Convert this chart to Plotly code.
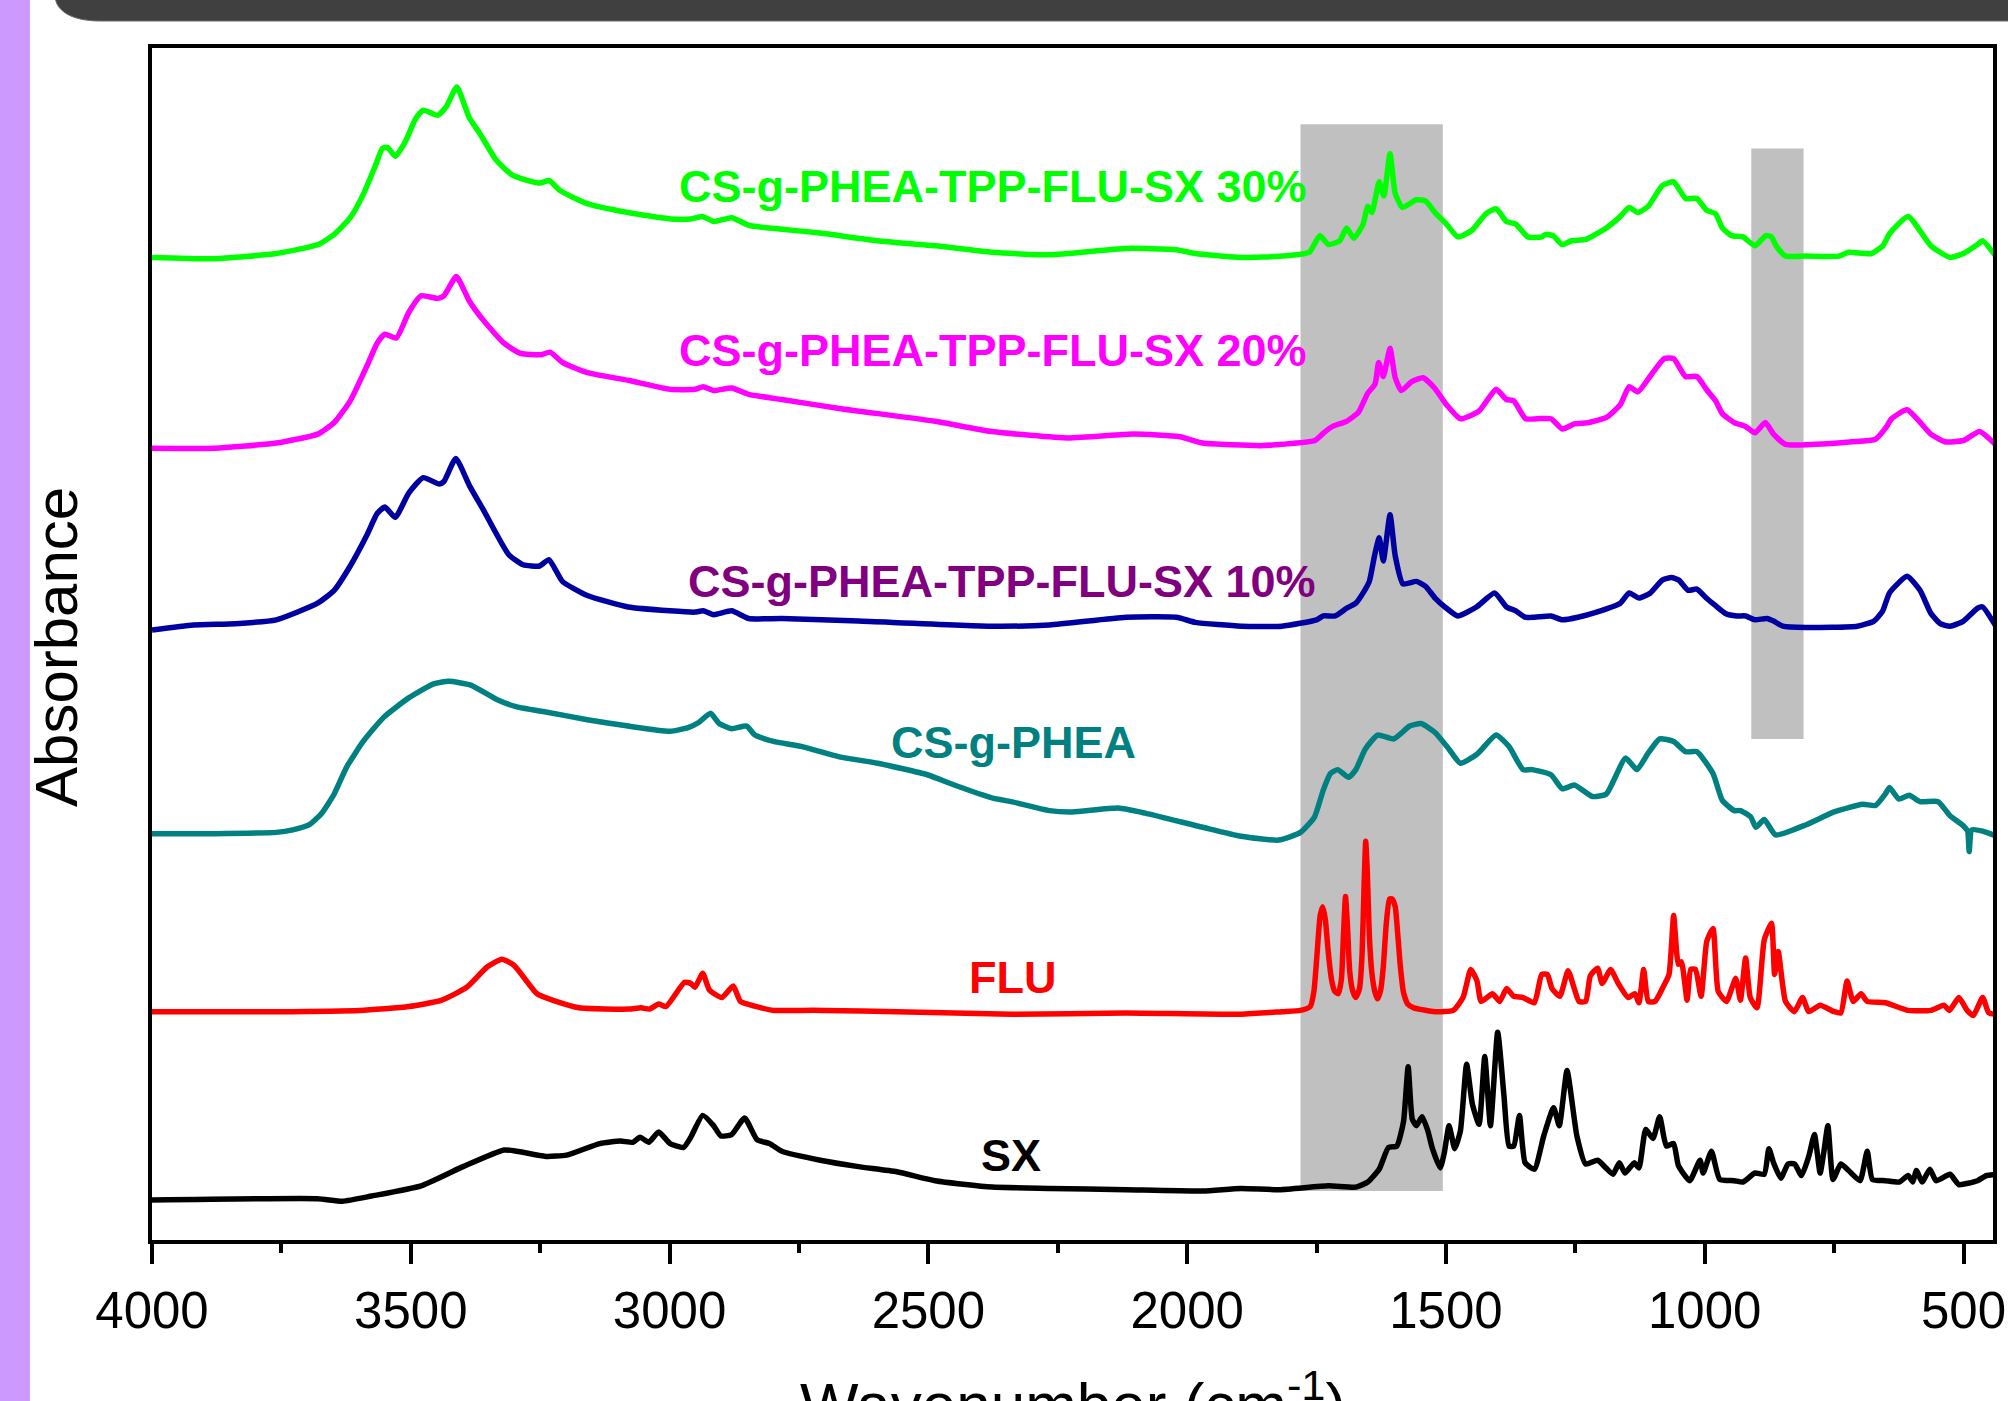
import plotly.graph_objects as go

# ---- data: (wavenumber cm-1, absorbance a.u. incl. stacking offset) ----
spec_30 = [(4000,769),(3879,768),(3760,772),(3679,779),(3648,787),(3617,800),(3592,818),(3567,842),(3555,854),(3545,855),(3530,848),(3511,859),(3491,877),(3476,884),(3448,880),(3431,887),(3411,902),(3387,878),(3367,866),(3335,845),(3303,833),(3251,827),(3233,829),(3211,821),(3159,811),(3080,804),(2998,799),(2959,799),(2937,801),(2914,797),(2880,800),(2847,794),(2783,791),(2709,788),(2598,782),(2486,778),(2377,773),(2266,771),(2118,776),(2021,775),(1984,772),(1895,769),(1817,770),(1764,773),(1744,786),(1727,779),(1705,782),(1692,792),(1678,784),(1660,795),(1651,809),(1643,804),(1629,828),(1620,817),(1608,850),(1598,819),(1584,808),(1557,814),(1539,813),(1521,804),(1499,795),(1477,785),(1450,790),(1423,803),(1403,807),(1383,797),(1365,795),(1342,785),(1315,785),(1307,787),(1293,786),(1275,779),(1257,782),(1230,783),(1190,792),(1163,801),(1146,808),(1129,804),(1109,809),(1082,825),(1060,828),(1037,815),(1015,815),(997,806),(979,803),(966,792),(948,786),(926,785),(903,778),(882,786),(871,785),(862,778),(844,770),(804,770),(741,770),(722,773),(678,772),(656,778),(642,788),(607,801),(563,778),(526,769),(500,772),(473,779),(463,782),(436,769)]

spec_20 = [(4000,620),(3880,620),(3760,624),(3680,631),(3648,640),(3617,657),(3585,684),(3565,702),(3550,709),(3528,706),(3504,726),(3480,739),(3448,737),(3436,739),(3412,754),(3387,735),(3360,720),(3320,702),(3288,694),(3248,693),(3231,695),(3207,687),(3159,679),(3080,673),(2999,666),(2951,666),(2935,668),(2915,665),(2880,667),(2847,662),(2783,658),(2672,651),(2487,641),(2377,633),(2229,628),(2103,631),(2014,629),(1970,624),(1859,622),(1817,623),(1753,626),(1736,632),(1719,637),(1692,641),(1669,648),(1651,663),(1637,670),(1630,687),(1621,676),(1608,698),(1598,675),(1586,665),(1566,672),(1544,675),(1522,667),(1499,654),(1472,643),(1436,649),(1403,666),(1383,658),(1369,657),(1346,643),(1324,643),(1297,643),(1275,635),(1252,639),(1225,640),(1190,644),(1163,654),(1146,668),(1129,664),(1104,677),(1078,690),(1060,690),(1037,676),(1015,676),(997,666),(979,657),(966,647),(943,640),(921,637),(903,632),(883,640),(867,631),(844,623),(787,623),(715,625),(670,627),(650,636),(639,643),(609,650),(563,631),(536,625),(500,626),(469,633),(436,622)]

spec_10 = [(4000,478),(3920,482),(3839,483),(3760,486),(3680,499),(3648,509),(3617,528),(3585,552),(3565,569),(3550,574),(3530,566),(3504,585),(3476,597),(3445,592),(3436,594),(3413,612),(3387,591),(3360,572),(3311,537),(3283,529),(3251,528),(3233,533),(3207,516),(3159,505),(3080,496),(2999,493),(2951,492),(2935,493),(2915,490),(2880,493),(2847,487),(2783,487),(2635,485),(2377,481),(2266,482),(2118,488),(2021,488),(1984,484),(1895,481),(1817,481),(1750,486),(1737,489),(1714,489),(1692,495),(1674,499),(1660,507),(1648,516),(1638,536),(1629,550),(1621,532),(1608,568),(1598,536),(1583,514),(1557,516),(1539,512),(1521,503),(1499,495),(1477,489),(1441,496),(1406,507),(1383,496),(1365,493),(1347,488),(1329,488),(1297,489),(1275,486),(1245,488),(1209,492),(1163,499),(1146,507),(1127,503),(1105,507),(1082,517),(1064,519),(1050,517),(1032,509),(1015,510),(997,503),(979,497),(960,491),(938,489),(921,489),(903,486),(880,487),(867,485),(849,481),(804,480),(705,481),(673,485),(656,493),(643,507),(609,520),(584,509),(563,491),(545,483),(526,481),(500,485),(473,495),(463,496),(436,480)]

spec_csg = [(4000,319),(3880,319),(3760,320),(3728,322),(3696,326),(3672,335),(3648,350),(3624,371),(3592,391),(3552,410),(3504,425),(3456,436),(3427,438),(3384,435),(3335,424),(3295,418),(3239,414),(3159,408),(3080,403),(2999,399),(2963,402),(2943,406),(2921,413),(2904,405),(2880,401),(2851,403),(2835,396),(2799,391),(2744,387),(2672,379),(2598,374),(2502,365),(2450,357),(2377,347),(2340,344),(2266,337),(2222,336),(2133,339),(2081,335),(1970,324),(1896,317),(1823,314),(1781,320),(1754,332),(1737,353),(1723,366),(1709,369),(1688,363),(1674,369),(1656,385),(1632,396),(1601,393),(1570,403),(1548,405),(1521,398),(1494,385),(1472,374),(1440,381),(1403,396),(1378,387),(1351,369),(1334,369),(1297,365),(1275,354),(1252,357),(1217,348),(1190,350),(1153,378),(1131,369),(1109,382),(1087,393),(1060,391),(1037,383),(1015,383),(984,366),(966,345),(943,337),(931,337),(911,332),(901,324),(885,330),(863,318),(804,326),(750,336),(695,342),(670,341),(651,350),(643,355),(625,346),(605,349),(584,344),(549,344),(526,333),(500,325),(492,321),(489,305),(484,322),(463,321),(436,317)]

spec_flu = [(4000,180),(3760,180),(3599,181),(3504,184),(3440,189),(3392,199),(3352,215),(3324,221),(3300,216),(3256,194),(3219,188),(3175,183),(3079,182),(3055,183),(3039,182),(3021,186),(3007,184),(2971,203),(2959,202),(2951,199),(2936,210),(2923,197),(2899,191),(2877,200),(2863,188),(2823,183),(2799,181),(2744,181),(2701,181),(2561,180),(2340,178),(2118,179),(1896,178),(1817,180),(1781,181),(1762,184),(1755,196),(1749,225),(1743,255),(1738,262),(1733,252),(1727,225),(1721,205),(1715,196),(1708,194),(1702,205),(1698,240),(1694,270),(1690,245),(1686,212),(1680,196),(1674,191),(1667,198),(1662,225),(1658,280),(1655,313),(1652,290),(1648,240),(1643,210),(1637,195),(1632,190),(1626,197),(1621,215),(1615,250),(1609,268),(1604,268),(1598,262),(1593,240),(1588,215),(1582,195),(1574,186),(1562,183),(1521,180),(1486,181),(1467,191),(1452,213),(1440,204),(1432,188),(1410,194),(1396,188),(1383,198),(1369,192),(1351,191),(1329,187),(1315,209),(1304,209),(1295,198),(1280,192),(1264,212),(1252,198),(1243,188),(1230,188),(1221,208),(1207,214),(1198,202),(1182,213),(1167,202),(1148,191),(1135,194),(1127,187),(1118,213),(1109,188),(1096,188),(1082,198),(1069,209),(1060,255),(1051,217),(1045,219),(1034,189),(1027,213),(1018,213),(1007,192),(996,235),(984,245),(974,196),(958,188),(940,206),(931,189),(921,222),(912,191),(899,183),(885,236),(871,249),(865,209),(858,227),(844,188),(827,180),(811,191),(799,180),(777,185),(750,180),(737,179),(725,204),(713,188),(698,194),(686,188),(651,187),(607,181),(563,181),(538,185),(527,181),(509,191),(493,181),(481,177),(463,191),(451,179),(434,178)]

spec_sx = [(4000,33),(3680,34),(3632,32),(3576,36),(3480,44),(3399,59),(3320,72),(3295,71),(3239,67),(3199,68),(3135,77),(3095,79),(3071,78),(3057,82),(3040,78),(3021,86),(2999,77),(2973,74),(2959,82),(2936,99),(2915,91),(2901,83),(2880,84),(2855,97),(2831,80),(2807,77),(2783,71),(2709,64),(2635,59),(2561,55),(2487,48),(2377,43),(2266,42),(2118,41),(1970,40),(1896,42),(1822,41),(1727,44),(1674,43),(1651,47),(1629,57),(1611,74),(1595,75),(1582,94),(1573,137),(1565,96),(1557,91),(1546,98),(1535,87),(1526,73),(1511,58),(1503,70),(1494,91),(1483,73),(1472,87),(1460,139),(1449,108),(1436,92),(1425,145),(1414,91),(1400,164),(1388,115),(1378,75),(1369,75),(1358,99),(1347,62),(1329,57),(1311,83),(1292,105),(1281,91),(1266,134),(1247,83),(1230,61),(1207,64),(1191,58),(1177,53),(1165,62),(1154,54),(1136,62),(1127,58),(1114,88),(1100,81),(1087,98),(1074,75),(1060,77),(1051,60),(1029,48),(1009,64),(1003,54),(987,71),(971,49),(943,48),(926,47),(903,54),(885,53),(876,73),(867,62),(853,50),(839,61),(826,61),(813,52),(799,67),(788,84),(777,54),(770,70),(762,91),(752,49),(737,61),(722,56),(700,48),(686,71),(676,49),(651,48),(624,47),(607,52),(598,47),(591,56),(580,47),(565,57),(553,48),(526,53),(509,45),(473,48),(456,52),(434,53)]

series_names = ["CS-g-PHEA-TPP-FLU-SX 30%", "CS-g-PHEA-TPP-FLU-SX 20%", "CS-g-PHEA-TPP-FLU-SX 10%", "CS-g-PHEA", "FLU", "SX"]
series_data = [spec_30, spec_20, spec_10, spec_csg, spec_flu, spec_sx]
line_colors = ["#00FF00", "#FF00FF", "#0000A0", "#008080", "#FF0000", "#000000"]
label_colors = ["#00FF00", "#FF00FF", "#800080", "#008080", "#FF0000", "#000000"]
label_pos = [(2376, 824), (2376, 696), (2358, 516), (2335, 390), (2338, 207), (2340, 68)]

# highlighted wavenumber regions (cm-1) and their vertical extent (a.u.)
bands = [(1781, 1506, 40, 873), (910, 809, 393, 854)]

FONT = "Liberation Sans, Arial, sans-serif"

fig = go.Figure()
for name, data, col in zip(series_names, series_data, line_colors):
    xs = [p[0] for p in data]
    ys = [p[1] for p in data]
    fig.add_trace(go.Scatter(x=xs, y=ys, mode="lines", name=name,
                             line=dict(color=col, width=5.5, shape="spline", smoothing=0.5),
                             showlegend=False))

for x0, x1, y0, y1 in bands:
    fig.add_shape(type="rect", xref="x", yref="y", x0=x0, x1=x1, y0=y0, y1=y1,
                  fillcolor="#C0C0C0", line=dict(width=0), layer="below")

for name, (lx, ly), col in zip(series_names, label_pos, label_colors):
    fig.add_annotation(x=lx, y=ly, xref="x", yref="y", text="<b>%s</b>" % name,
                       showarrow=False, font=dict(family=FONT, size=45, color=col),
                       xanchor="center", yanchor="middle")

# axis titles
fig.add_annotation(x=-0.0516, y=0.4975, xref="paper", yref="paper", text="Absorbance",
                   textangle=-90, showarrow=False, xanchor="center", yanchor="middle",
                   font=dict(family=FONT, size=60, color="black"))
fig.add_annotation(x=0.5, y=-0.134, xref="paper", yref="paper", text="Wavenumber (cm<sup>-1</sup>)",
                   showarrow=False, xanchor="center", yanchor="middle",
                   font=dict(family=FONT, size=62, color="black"))

# page decorations (purple side stripe, dark header bar)
fig.add_shape(type="rect", xref="paper", yref="paper", x0=-0.09, x1=-0.0663, y0=-0.15, y1=1.06,
              fillcolor="#CC99FF", line=dict(width=0), layer="above")
fig.add_shape(type="path", xref="paper", yref="paper",
              path="M -0.0527,1.0445 C -0.0527,1.0319 -0.0445,1.02265 -0.0282,1.02265 L 1.012,1.02265 L 1.012,1.0445 Z",
              fillcolor="#404040", line=dict(color="#6b6b6b", width=1), layer="above")

fig.update_layout(
    width=2008, height=1401,
    margin=dict(l=152, r=15, t=48, b=161, autoexpand=False),
    paper_bgcolor="white", plot_bgcolor="white",
    xaxis=dict(range=[4000, 443], tick0=0, dtick=500, ticks="outside", ticklen=20, tickwidth=4,
               tickcolor="black", showline=True, linewidth=4, linecolor="black", mirror=True,
               showgrid=False, zeroline=False, ticklabelstandoff=3, automargin=False,
               tickfont=dict(family=FONT, size=51, color="black"),
               minor=dict(tick0=0, dtick=250, ticks="outside", ticklen=9, tickwidth=4, tickcolor="black",
                          showgrid=False)),
    yaxis=dict(range=[1.7, 932.5], showticklabels=False, ticks="", showline=True, linewidth=4,
               linecolor="black", mirror=True, showgrid=False, zeroline=False, automargin=False),
)

fig.write_html("out.html", config={"displayModeBar": False},
               post_script="document.body.style.margin='0';document.body.style.overflow='hidden';")
